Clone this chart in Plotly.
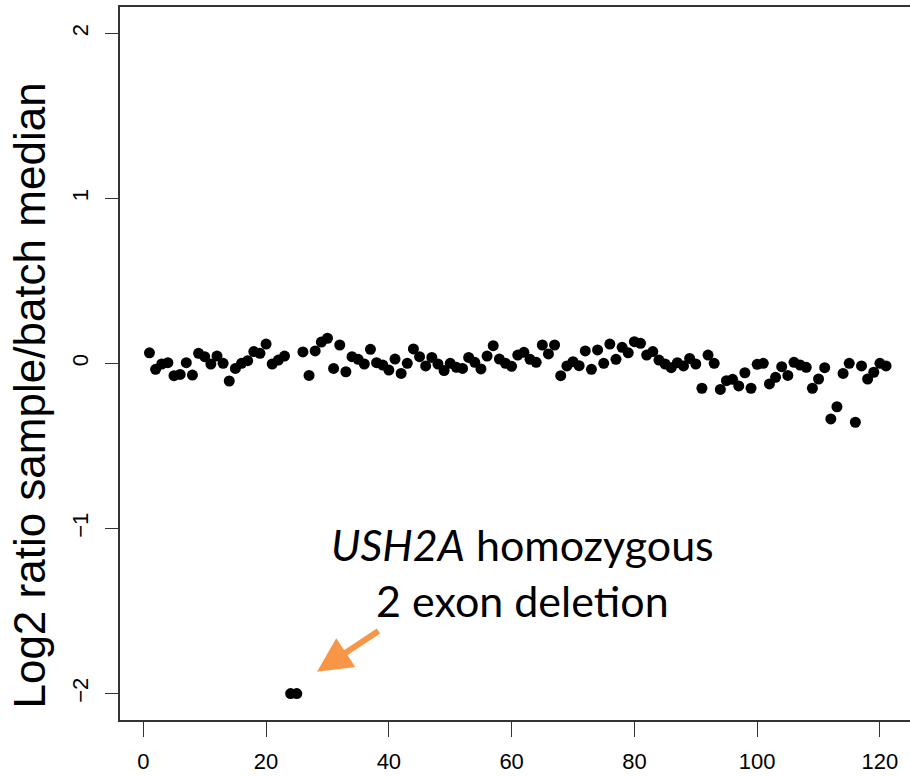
import plotly.graph_objects as go

exon_index = list(range(1, 122))
log2_ratio = [
    0.065, -0.035, -0.003, 0.005, -0.074, -0.066, 0.005, -0.07, 0.062, 0.041,
    -0.003, 0.045, 0.001, -0.106, -0.03, 0.001, 0.017, 0.072, 0.062, 0.118,
    -0.003, 0.021, 0.045, -2.0, -2.0, 0.07, -0.072, 0.076, 0.13, 0.153,
    -0.03, 0.112, -0.05, 0.041, 0.025, -0.003, 0.086, 0.005, -0.009, -0.04,
    0.027, -0.06, 0.001, 0.088, 0.041, -0.015, 0.037, -0.003, -0.043, 0.001,
    -0.023, -0.03, 0.037, 0.007, -0.033, 0.045, 0.108, 0.027, 0.001, -0.017,
    0.051, 0.068, 0.025, 0.007, 0.112, 0.058, 0.112, -0.074, -0.015, 0.011,
    -0.013, 0.076, -0.035, 0.082, 0.001, 0.118, 0.025, 0.098, 0.065, 0.132,
    0.122, 0.051, 0.072, 0.021, -0.003, -0.025, 0.005, -0.015, 0.031, -0.003,
    -0.15, 0.051, 0.001, -0.157, -0.104, -0.096, -0.136, -0.056, -0.15, -0.005,
    0.001, -0.124, -0.084, -0.019, -0.072, 0.007, -0.009, -0.023, -0.15, -0.094,
    -0.025, -0.336, -0.262, -0.06, 0.001, -0.356, -0.015, -0.094, -0.053, 0.001,
    -0.015,
]
x_ticks = [0, 20, 40, 60, 80, 100, 120]
y_ticks = [-2, -1, 0, 1, 2]
y_title = "Log2 ratio sample/batch median"
note_lines = ["<i>USH2A</i> homozygous", "2 exon deletion"]

fig = go.Figure()
fig.add_trace(go.Scatter(
    x=exon_index, y=log2_ratio, mode="markers",
    marker=dict(color="black", size=11, line=dict(width=0)),
    showlegend=False, hoverinfo="skip",
))

axis_font = dict(family="Liberation Sans, Arial, sans-serif", size=22, color="black")

fig.update_layout(
    width=910, height=777,
    margin=dict(l=119.5, r=0, t=7, b=57, autoexpand=False),
    paper_bgcolor="white", plot_bgcolor="white",
    xaxis=dict(
        range=[-3.8, 124.9], tickvals=x_ticks, ticks="outside", ticklen=15,
        tickwidth=1.3, tickcolor="#333", showline=True, linecolor="#333", linewidth=1.5,
        mirror=True, showgrid=False, zeroline=False, tickfont=axis_font,
        automargin=False, ticklabelstandoff=6,
    ),
    yaxis=dict(
        range=[-2.16, 2.16], tickvals=y_ticks, ticks="outside", ticklen=13,
        tickwidth=1.3, tickcolor="#333", showline=True, linecolor="#333", linewidth=1.5,
        showgrid=False, zeroline=False, tickfont=axis_font, tickangle=-90,
        automargin=False, ticklabelstandoff=8,
    ),
)

fig.add_annotation(
    xref="paper", yref="paper",
    x=(28 - 119.5) / (910 - 119.5), y=(720 - 396) / 713,
    text=y_title, textangle=-90, showarrow=False,
    font=dict(family="Liberation Sans, Arial, sans-serif", size=44, color="black"),
    xanchor="center", yanchor="middle",
)

fig.add_annotation(
    x=61.8, y=-1.269, xref="x", yref="y",
    text="<br>".join(note_lines), showarrow=False,
    font=dict(family="Lato, Carlito, sans-serif", size=43, color="black"),
    xanchor="center", yanchor="middle", align="center",
)

fig.add_annotation(
    x=28.3, y=-1.868, ax=38.55, ay=-1.615, xref="x", yref="y", axref="x", ayref="y",
    text="", showarrow=True, arrowhead=2, arrowsize=1.15, arrowwidth=6,
    arrowcolor="#F79646", standoff=0,
)

fig.write_html("out.html", post_script="document.body.style.margin='0';",
               config={"displayModeBar": False})
